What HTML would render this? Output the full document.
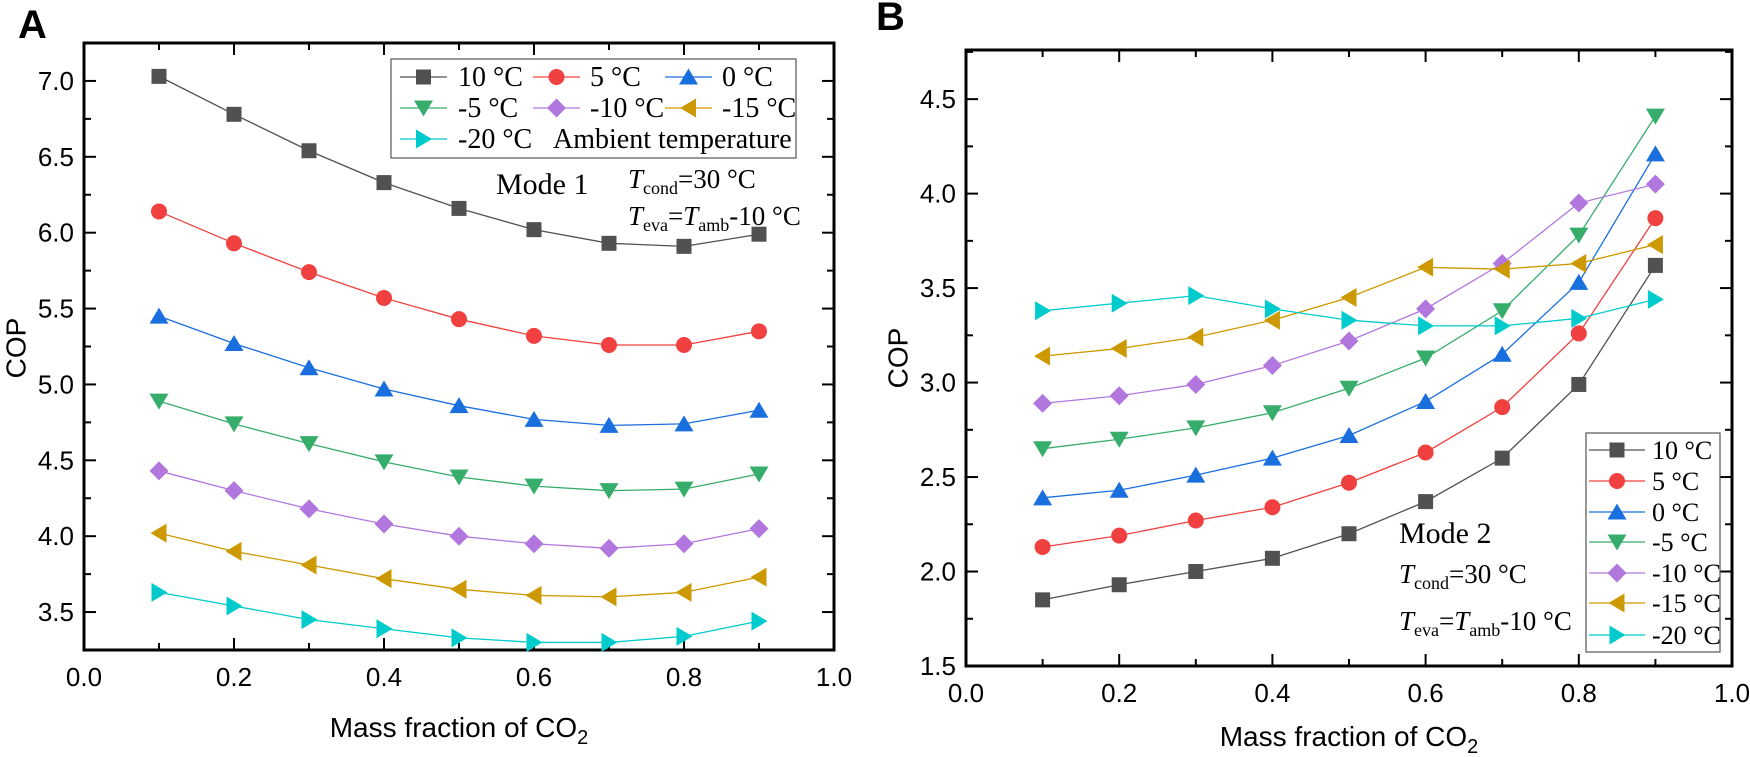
<!DOCTYPE html>
<html><head><meta charset="utf-8">
<style>
body{margin:0;background:#fff;}
svg{display:block;}
.tk{font-family:"Liberation Sans",sans-serif;font-size:26px;fill:#000;}
.ser{font-family:"Liberation Serif",serif;fill:#000;}
</style></head>
<body>
<svg id="chart" width="1750" height="757" viewBox="0 0 1750 757" xmlns="http://www.w3.org/2000/svg">
<text x="18" y="38" font-family="Liberation Sans,sans-serif" font-weight="bold" font-size="40">A</text>
<text x="876" y="30" font-family="Liberation Sans,sans-serif" font-weight="bold" font-size="40">B</text>
</svg>
<script>
const seriesNames = ['10 °C','5 °C','0 °C','-5 °C','-10 °C','-15 °C','-20 °C'];
const xCats = [0.1,0.2,0.3,0.4,0.5,0.6,0.7,0.8,0.9];
const xTicks = ['0.0','0.2','0.4','0.6','0.8','1.0'];
const yTicksA = ['3.5','4.0','4.5','5.0','5.5','6.0','6.5','7.0'];
const yTicksB = ['1.5','2.0','2.5','3.0','3.5','4.0','4.5'];
const a10 = [7.03,6.78,6.54,6.33,6.16,6.02,5.93,5.91,5.99];
const a5 = [6.14,5.93,5.74,5.57,5.43,5.32,5.26,5.26,5.35];
const a0 = [5.45,5.27,5.11,4.97,4.86,4.77,4.73,4.74,4.83];
const am5 = [4.89,4.74,4.61,4.49,4.39,4.33,4.30,4.31,4.41];
const am10 = [4.43,4.30,4.18,4.08,4.00,3.95,3.92,3.95,4.05];
const am15 = [4.02,3.90,3.81,3.72,3.65,3.61,3.60,3.63,3.73];
const am20 = [3.63,3.54,3.45,3.39,3.33,3.30,3.30,3.34,3.44];
const b10 = [1.85,1.93,2.00,2.07,2.20,2.37,2.60,2.99,3.62];
const b5 = [2.13,2.19,2.27,2.34,2.47,2.63,2.87,3.26,3.87];
const b0 = [2.39,2.43,2.51,2.60,2.72,2.90,3.15,3.53,4.21];
const bm5 = [2.65,2.70,2.76,2.84,2.97,3.13,3.38,3.78,4.41];
const bm10 = [2.89,2.93,2.99,3.09,3.22,3.39,3.63,3.95,4.05];
const bm15 = [3.14,3.18,3.24,3.33,3.45,3.61,3.60,3.63,3.73];
const bm20 = [3.38,3.42,3.46,3.39,3.33,3.30,3.30,3.34,3.44];

const colors = ['#515151','#f0403f','#1a6fdf','#37ad6b','#b177de','#cc9900','#00cbcc'];
const shapes = ['square','circle','up','down','diamond','left','right'];
const NS='http://www.w3.org/2000/svg';
const svg=document.getElementById('chart');
function mk(tag,attrs,parent){const e=document.createElementNS(NS,tag);for(const k in attrs)e.setAttribute(k,attrs[k]);(parent||svg).appendChild(e);return e;}

function marker(shape,cx,cy,col,g){
  const s=8.5;let e;
  if(shape==='square') e=mk('rect',{x:cx-7.5,y:cy-7.5,width:15,height:15,fill:col},g);
  else if(shape==='circle') e=mk('circle',{cx:cx,cy:cy,r:8,fill:col},g);
  else if(shape==='diamond') e=mk('polygon',{points:`${cx},${cy-s-1} ${cx+s+1},${cy} ${cx},${cy+s+1} ${cx-s-1},${cy}`,fill:col},g);
  else if(shape==='up') e=mk('polygon',{points:`${cx},${cy-s} ${cx+s+1},${cy+s-1} ${cx-s-1},${cy+s-1}`,fill:col},g);
  else if(shape==='down') e=mk('polygon',{points:`${cx},${cy+s} ${cx+s+1},${cy-s+1} ${cx-s-1},${cy-s+1}`,fill:col},g);
  else if(shape==='left') e=mk('polygon',{points:`${cx-s},${cy} ${cx+s-1},${cy-s-1} ${cx+s-1},${cy+s+1}`,fill:col},g);
  else e=mk('polygon',{points:`${cx+s},${cy} ${cx-s+1},${cy-s-1} ${cx-s+1},${cy+s+1}`,fill:col},g);
  return e;
}

function panel(cfg){
  const {L,R,T,B,ymin,ymax,yTicks,data,id}=cfg;
  const xs=v=>L+(v-0)/(1-0)*(R-L);
  const ys=v=>B-(v-ymin)/(ymax-ymin)*(B-T);
  const g=mk('g',{});
  
  
  for(let i=0;i<=10;i++){
    const v=i/10, x=xs(v), len=(i%2===0)?12:7;
    mk('line',{x1:x,y1:B,x2:x,y2:B-len,stroke:'#000','stroke-width':2},g);
    mk('line',{x1:x,y1:T,x2:x,y2:T+len,stroke:'#000','stroke-width':2},g);
  }
  xTicks.forEach((t)=>{
    const tx=mk('text',{x:xs(parseFloat(t)),y:B+36,'text-anchor':'middle',class:'tk'},g);
    tx.textContent=t;
    
    
  });
  const y0=parseFloat(yTicks[0]);
  for(let v=y0-0.25;v<=ymax+1e-6;v+=0.25){
    if(v<ymin-1e-6) continue;
    const y=ys(v); const major=Math.abs((v-y0)/0.5-Math.round((v-y0)/0.5))<1e-6;
    const len=major?12:7;
    mk('line',{x1:L,y1:y,x2:L+len,y2:y,stroke:'#000','stroke-width':2},g);
    mk('line',{x1:R,y1:y,x2:R-len,y2:y,stroke:'#000','stroke-width':2},g);
  }
  yTicks.forEach(t=>{
    const tx=mk('text',{x:L-10,y:ys(parseFloat(t))+9,'text-anchor':'end',class:'tk'},g);
    tx.textContent=t;
    
    
  });
  mk('rect',{x:L,y:T,width:R-L,height:B-T,fill:'none',stroke:'#000','stroke-width':3},g);
  data.forEach((arr,si)=>{
    const sg=mk('g',{},g);
    
    
    const pts=arr.map((v,i)=>xs(xCats[i])+','+ys(v)).join(' ');
    mk('polyline',{points:pts,fill:'none',stroke:colors[si],'stroke-width':1.3},sg);
    arr.forEach((v,i)=>{
      const m=marker(shapes[si],xs(xCats[i]),ys(v),colors[si],sg);
      
      
    });
  });
}

panel({id:'panel-a',L:84,R:834,T:43,B:650,ymin:3.25,ymax:7.25,yTicks:yTicksA,data:[a10,a5,a0,am5,am10,am15,am20]});
panel({id:'panel-b',L:966,R:1732,T:50,B:666,ymin:1.5,ymax:4.76,yTicks:yTicksB,data:[b10,b5,b0,bm5,bm10,bm15,bm20]});

const lgA=mk('g',{});


mk('rect',{x:391,y:59,width:405,height:99,fill:'#fff',stroke:'#555','stroke-width':1.2},lgA);
const colX=[[400,447,458],[533,580,590],[665,712,722]];
const rowY=[77,108,139];
seriesNames.forEach((n,i)=>{
  const c=colX[i%3], y=rowY[Math.floor(i/3)];
  const e=mk('g',{},lgA);
  
  
  mk('line',{x1:c[0],y1:y,x2:c[1],y2:y,stroke:colors[i],'stroke-width':1.3},e);
  marker(shapes[i],(c[0]+c[1])/2,y,colors[i],e);
  const t=mk('text',{x:c[2],y:y+9,class:'ser','font-size':28},e);
  t.textContent=n;
});
const amb=mk('text',{x:553,y:148,class:'ser','font-size':28},lgA);
amb.textContent='Ambient temperature';

const lgB=mk('g',{});


mk('rect',{x:1586,y:433,width:134,height:219,fill:'#fff',stroke:'#555','stroke-width':1.2},lgB);
const rowB=[450,481,512,542,573,603,635];
seriesNames.forEach((n,i)=>{
  const y=rowB[i];
  const e=mk('g',{},lgB);
  
  
  mk('line',{x1:1589,y1:y,x2:1645,y2:y,stroke:colors[i],'stroke-width':1.3},e);
  marker(shapes[i],1617,y,colors[i],e);
  const t=mk('text',{x:1652,y:y+9,class:'ser','font-size':26},e);
  t.textContent=n;
});
</script>
<svg style="position:absolute;left:0;top:0" width="1750" height="757" xmlns="http://www.w3.org/2000/svg">
<text x="18" y="348" transform="rotate(-90 18 348)" font-family="Liberation Sans,sans-serif" font-size="28" text-anchor="middle" dominant-baseline="middle">COP</text>
<text x="900" y="358" transform="rotate(-90 900 358)" font-family="Liberation Sans,sans-serif" font-size="28" text-anchor="middle" dominant-baseline="middle">COP</text>
<text x="459" y="737" font-family="Liberation Sans,sans-serif" font-size="28" text-anchor="middle">Mass fraction of CO<tspan dy="7" font-size="20">2</tspan></text>
<text x="1349" y="746" font-family="Liberation Sans,sans-serif" font-size="28" text-anchor="middle">Mass fraction of CO<tspan dy="7" font-size="20">2</tspan></text>
<g font-family="Liberation Serif,serif">
<text x="496" y="194" font-size="30">Mode 1</text>
<text x="628" y="188" font-size="27"><tspan font-style="italic">T</tspan><tspan font-size="18" dy="6">cond</tspan><tspan dy="-6">=30 °C</tspan></text>
<text x="628" y="225" font-size="27"><tspan font-style="italic">T</tspan><tspan font-size="18" dy="6">eva</tspan><tspan dy="-6">=</tspan><tspan font-style="italic">T</tspan><tspan font-size="18" dy="6">amb</tspan><tspan dy="-6">-10 °C</tspan></text>
</g>
<g font-family="Liberation Serif,serif">
<text x="1399" y="543" font-size="30">Mode 2</text>
<text x="1399" y="583" font-size="27"><tspan font-style="italic">T</tspan><tspan font-size="18" dy="6">cond</tspan><tspan dy="-6">=30 °C</tspan></text>
<text x="1399" y="630" font-size="27"><tspan font-style="italic">T</tspan><tspan font-size="18" dy="6">eva</tspan><tspan dy="-6">=</tspan><tspan font-style="italic">T</tspan><tspan font-size="18" dy="6">amb</tspan><tspan dy="-6">-10 °C</tspan></text>
</g>
</svg>
</body></html>
